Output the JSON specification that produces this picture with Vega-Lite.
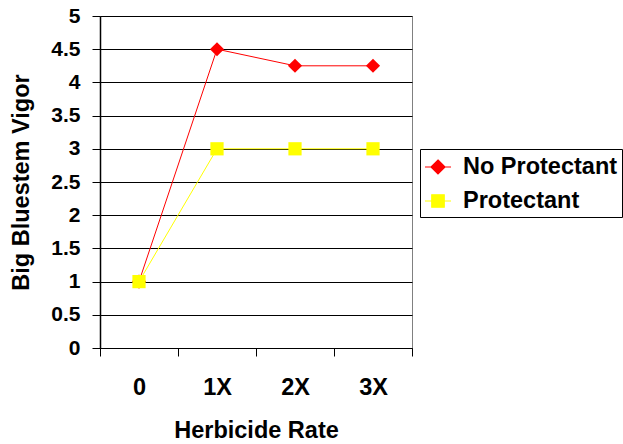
{
  "$schema": "https://vega.github.io/schema/vega-lite/v6.json",
  "width": 312,
  "height": 332,
  "autosize": {"type": "none"},
  "padding": {"left": 100, "top": 16, "right": 211, "bottom": 96},
  "background": "white",
  "config": {
    "view": {"stroke": "#808080", "strokeWidth": 1},
    "font": "Liberation Sans"
  },
  "data": {
    "values": [
      {"rate": "0", "series": "No Protectant", "vigor": 1},
      {"rate": "1X", "series": "No Protectant", "vigor": 4.5},
      {"rate": "2X", "series": "No Protectant", "vigor": 4.25},
      {"rate": "3X", "series": "No Protectant", "vigor": 4.25},
      {"rate": "0", "series": "Protectant", "vigor": 1},
      {"rate": "1X", "series": "Protectant", "vigor": 3},
      {"rate": "2X", "series": "Protectant", "vigor": 3},
      {"rate": "3X", "series": "Protectant", "vigor": 3}
    ]
  },
  "encoding": {
    "x": {
      "field": "rate",
      "type": "nominal",
      "sort": null,
      "scale": {"type": "band", "domain": ["0", "1X", "2X", "3X"], "paddingInner": 0, "paddingOuter": 0},
      "axis": {
        "title": "Herbicide Rate",
        "labelAngle": 0,
        "tickBand": "extent",
        "grid": false,
        "domainColor": "#000",
        "domainWidth": 1,
        "tickColor": "#000",
        "tickSize": 8,
        "labelFont": "Liberation Sans",
        "labelFontSize": 23.5,
        "labelFontWeight": "bold",
        "labelColor": "#000",
        "labelBaseline": "alphabetic",
        "labelPadding": 38,
        "titleFont": "Liberation Sans",
        "titleFontSize": 23.5,
        "titleFontWeight": "bold",
        "titleColor": "#000",
        "titleBaseline": "alphabetic",
        "titleY": 89
      }
    },
    "y": {
      "field": "vigor",
      "type": "quantitative",
      "scale": {"domain": [0, 5], "nice": false, "zero": true},
      "axis": {
        "title": "Big Bluestem Vigor",
        "values": [0, 0.5, 1, 1.5, 2, 2.5, 3, 3.5, 4, 4.5, 5],
        "format": "~g",
        "grid": true,
        "gridColor": "#000",
        "gridWidth": 1,
        "gridOpacity": 1,
        "domainColor": "#000",
        "domainWidth": 1.5,
        "tickColor": "#000",
        "tickSize": 8,
        "labelFont": "Liberation Sans",
        "labelFontSize": 21,
        "labelFontWeight": "bold",
        "labelColor": "#000",
        "labelPadding": 12,
        "titleFont": "Liberation Sans",
        "titleFontSize": 23.5,
        "titleFontWeight": "bold",
        "titleColor": "#000",
        "titleAngle": -90,
        "titleAlign": "center",
        "titleBaseline": "middle",
        "titleX": -79,
        "titleY": 166
      }
    }
  },
  "layer": [
    {
      "mark": {"type": "line", "strokeWidth": 1, "opacity": 1},
      "encoding": {
        "detail": {"field": "series", "type": "nominal"},
        "color": {
          "condition": {"test": "datum.series === 'Protectant'", "value": "#FFFF00"},
          "value": "#FF0000"
        }
      }
    },
    {
      "mark": {"type": "point", "filled": true, "opacity": 1, "strokeWidth": 0},
      "encoding": {
        "color": {
          "condition": {"test": "datum.series === 'Protectant'", "value": "#FFFF00"},
          "value": "#FF0000"
        },
        "shape": {
          "condition": {"test": "datum.series === 'Protectant'", "value": "square"},
          "value": "diamond"
        },
        "size": {
          "condition": {"test": "datum.series === 'Protectant'", "value": 175},
          "value": 200
        }
      }
    },
    {
      "mark": {"type": "point", "filled": true, "opacity": 1, "strokeWidth": 1.2, "size": 0},
      "encoding": {
        "fill": {
          "field": "series",
          "type": "nominal",
          "scale": {"domain": ["No Protectant", "Protectant"], "range": ["#FF0000", "#FFFF00"]},
          "legend": {
            "orient": "none",
            "legendX": 320,
            "legendY": 133,
            "title": null,
            "padding": 4,
            "strokeColor": "#000",
            "fillColor": "#fff",
            "cornerRadius": 0,
            "symbolSize": 676,
            "symbolStrokeWidth": 1.2,
            "symbolOpacity": 1,
            "labelFont": "Liberation Sans",
            "labelFontSize": 23.5,
            "labelFontWeight": "bold",
            "labelColor": "#000",
            "labelOffset": 11,
            "rowPadding": 8,
            "labelLimit": 300
          }
        },
        "stroke": {
          "field": "series",
          "type": "nominal",
          "scale": {"domain": ["No Protectant", "Protectant"], "range": ["#FF0000", "#FFFF00"]},
          "legend": {"orient": "none", "legendX": 320, "legendY": 133, "title": null}
        },
        "shape": {
          "field": "series",
          "type": "nominal",
          "scale": {
            "domain": ["No Protectant", "Protectant"],
            "range": [
              "M-1,0L1,0M0,-0.54L0.54,0L0,0.54L-0.54,0Z",
              "M-1,0L1,0M-0.48,-0.48L0.48,-0.48L0.48,0.48L-0.48,0.48Z"
            ]
          },
          "legend": {"orient": "none", "legendX": 320, "legendY": 133, "title": null}
        }
      }
    }
  ]
}
